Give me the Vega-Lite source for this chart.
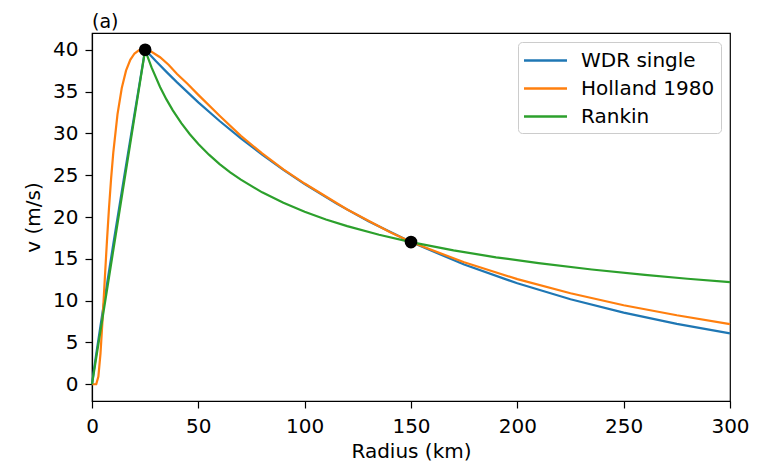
{
  "$schema": "https://vega.github.io/schema/vega-lite/v6.json",
  "width": 638,
  "height": 368,
  "autosize": {"type": "none"},
  "padding": {"left": 92, "top": 33, "right": 29, "bottom": 61},
  "background": "white",
  "title": {"text": "(a)", "anchor": "start", "frame": "group", "fontSize": 19, "fontWeight": "normal", "font": "DejaVu Sans", "color": "#000", "baseline": "bottom", "offset": -18},
  "config": {
    "font": "DejaVu Sans",
    "view": {"stroke": "#000", "strokeWidth": 1.2},
    "axis": {
      "grid": false,
      "domainColor": "#000",
      "domainWidth": 1.2,
      "tickColor": "#000",
      "tickWidth": 1.2,
      "tickSize": 7,
      "labelFlush": false,
      "labelFontSize": 20,
      "labelColor": "#000",
      "labelFont": "DejaVu Sans",
      "titleFontSize": 20,
      "titleFontWeight": "normal",
      "titleColor": "#000",
      "titleFont": "DejaVu Sans"
    }
  },
  "datasets": {
    "curves": [
      {"model": "WDR single", "r": 0, "v": 0},
      {"model": "WDR single", "r": 1, "v": 1.88},
      {"model": "WDR single", "r": 2, "v": 3.63},
      {"model": "WDR single", "r": 5, "v": 8.67},
      {"model": "WDR single", "r": 10, "v": 16.75},
      {"model": "WDR single", "r": 15, "v": 24.62},
      {"model": "WDR single", "r": 20, "v": 32.36},
      {"model": "WDR single", "r": 25, "v": 40.0},
      {"model": "WDR single", "r": 30, "v": 38.65},
      {"model": "WDR single", "r": 35, "v": 37.35},
      {"model": "WDR single", "r": 40, "v": 36.10},
      {"model": "WDR single", "r": 50, "v": 33.71},
      {"model": "WDR single", "r": 60, "v": 31.48},
      {"model": "WDR single", "r": 70, "v": 29.40},
      {"model": "WDR single", "r": 80, "v": 27.45},
      {"model": "WDR single", "r": 90, "v": 25.63},
      {"model": "WDR single", "r": 100, "v": 23.94},
      {"model": "WDR single", "r": 115, "v": 21.60},
      {"model": "WDR single", "r": 130, "v": 19.49},
      {"model": "WDR single", "r": 150, "v": 17.0},
      {"model": "WDR single", "r": 175, "v": 14.32},
      {"model": "WDR single", "r": 200, "v": 12.07},
      {"model": "WDR single", "r": 225, "v": 10.17},
      {"model": "WDR single", "r": 250, "v": 8.57},
      {"model": "WDR single", "r": 275, "v": 7.22},
      {"model": "WDR single", "r": 300, "v": 6.09},
      {"model": "Holland 1980", "r": 0, "v": 0},
      {"model": "Holland 1980", "r": 1, "v": 0},
      {"model": "Holland 1980", "r": 2, "v": 0.02},
      {"model": "Holland 1980", "r": 3, "v": 0.91},
      {"model": "Holland 1980", "r": 4, "v": 3.70},
      {"model": "Holland 1980", "r": 5, "v": 7.86},
      {"model": "Holland 1980", "r": 6, "v": 12.51},
      {"model": "Holland 1980", "r": 7, "v": 17.0},
      {"model": "Holland 1980", "r": 8, "v": 21.1},
      {"model": "Holland 1980", "r": 9, "v": 24.65},
      {"model": "Holland 1980", "r": 10, "v": 27.67},
      {"model": "Holland 1980", "r": 12, "v": 32.3},
      {"model": "Holland 1980", "r": 14, "v": 35.43},
      {"model": "Holland 1980", "r": 16, "v": 37.5},
      {"model": "Holland 1980", "r": 18, "v": 38.79},
      {"model": "Holland 1980", "r": 20, "v": 39.55},
      {"model": "Holland 1980", "r": 22, "v": 39.92},
      {"model": "Holland 1980", "r": 25, "v": 40.0},
      {"model": "Holland 1980", "r": 28, "v": 39.75},
      {"model": "Holland 1980", "r": 32, "v": 39.1},
      {"model": "Holland 1980", "r": 36, "v": 38.2},
      {"model": "Holland 1980", "r": 40, "v": 37.1},
      {"model": "Holland 1980", "r": 45, "v": 35.9},
      {"model": "Holland 1980", "r": 50, "v": 34.6},
      {"model": "Holland 1980", "r": 60, "v": 32.1},
      {"model": "Holland 1980", "r": 70, "v": 29.7},
      {"model": "Holland 1980", "r": 80, "v": 27.6},
      {"model": "Holland 1980", "r": 90, "v": 25.7},
      {"model": "Holland 1980", "r": 100, "v": 24.0},
      {"model": "Holland 1980", "r": 120, "v": 20.9},
      {"model": "Holland 1980", "r": 140, "v": 18.2},
      {"model": "Holland 1980", "r": 150, "v": 17.0},
      {"model": "Holland 1980", "r": 175, "v": 14.58},
      {"model": "Holland 1980", "r": 200, "v": 12.57},
      {"model": "Holland 1980", "r": 225, "v": 10.88},
      {"model": "Holland 1980", "r": 250, "v": 9.45},
      {"model": "Holland 1980", "r": 275, "v": 8.25},
      {"model": "Holland 1980", "r": 300, "v": 7.2},
      {"model": "Rankin", "r": 0, "v": 0},
      {"model": "Rankin", "r": 25, "v": 40.0},
      {"model": "Rankin", "r": 26, "v": 39.26},
      {"model": "Rankin", "r": 28, "v": 37.89},
      {"model": "Rankin", "r": 32, "v": 35.55},
      {"model": "Rankin", "r": 35, "v": 34.06},
      {"model": "Rankin", "r": 38, "v": 32.75},
      {"model": "Rankin", "r": 42, "v": 31.22},
      {"model": "Rankin", "r": 46, "v": 29.90},
      {"model": "Rankin", "r": 50, "v": 28.73},
      {"model": "Rankin", "r": 55, "v": 27.45},
      {"model": "Rankin", "r": 60, "v": 26.33},
      {"model": "Rankin", "r": 65, "v": 25.34},
      {"model": "Rankin", "r": 70, "v": 24.46},
      {"model": "Rankin", "r": 80, "v": 22.95},
      {"model": "Rankin", "r": 90, "v": 21.70},
      {"model": "Rankin", "r": 100, "v": 20.63},
      {"model": "Rankin", "r": 110, "v": 19.71},
      {"model": "Rankin", "r": 120, "v": 18.91},
      {"model": "Rankin", "r": 135, "v": 17.88},
      {"model": "Rankin", "r": 150, "v": 17.0},
      {"model": "Rankin", "r": 170, "v": 16.01},
      {"model": "Rankin", "r": 190, "v": 15.18},
      {"model": "Rankin", "r": 210, "v": 14.48},
      {"model": "Rankin", "r": 235, "v": 13.72},
      {"model": "Rankin", "r": 260, "v": 13.07},
      {"model": "Rankin", "r": 280, "v": 12.62},
      {"model": "Rankin", "r": 300, "v": 12.21}
    ],
    "points": [
      {"r": 25, "v": 40},
      {"r": 150, "v": 17}
    ]
  },
  "encoding": {
    "x": {"field": "r", "type": "quantitative", "title": "Radius (km)",
      "scale": {"domain": [0, 300], "nice": false, "zero": false},
      "axis": {"values": [0, 50, 100, 150, 200, 250, 300], "labelPadding": 8, "titlePadding": 5}},
    "y": {"field": "v", "type": "quantitative", "title": "v (m/s)",
      "scale": {"domain": [-2, 42], "nice": false, "zero": false},
      "axis": {"values": [0, 5, 10, 15, 20, 25, 30, 35, 40], "labelPadding": 7, "titlePadding": 9}}
  },
  "layer": [
    {
      "data": {"name": "curves"},
      "transform": [{"filter": "datum.model === 'WDR single'"}],
      "mark": {"type": "line", "strokeWidth": 2.2, "interpolate": "linear"},
      "encoding": {
        "color": {"field": "model", "type": "nominal",
          "scale": {"domain": ["WDR single", "Holland 1980", "Rankin"], "range": ["#1f77b4", "#ff7f0e", "#2ca02c"]},
          "legend": {
            "title": null,
            "orient": "top-right",
            "offset": 9,
            "padding": 6,
            "fillColor": "white",
            "strokeColor": "#cccccc",
            "cornerRadius": 4,
            "symbolType": "M-2,0H2",
            "symbolSize": 462,
            "symbolStrokeWidth": 2.6,
            "symbolOffset": 9,
            "labelFontSize": 20,
            "labelFont": "DejaVu Sans",
            "labelColor": "#000",
            "labelOffset": 23,
            "rowPadding": 5
          }}
      }
    },
    {
      "data": {"name": "curves"},
      "transform": [{"filter": "datum.model === 'Holland 1980'"}],
      "mark": {"type": "line", "strokeWidth": 2.2, "interpolate": "linear"},
      "encoding": {"color": {"field": "model", "type": "nominal"}}
    },
    {
      "data": {"name": "curves"},
      "transform": [{"filter": "datum.model === 'Rankin'"}],
      "mark": {"type": "line", "strokeWidth": 2.2, "interpolate": "linear"},
      "encoding": {"color": {"field": "model", "type": "nominal"}}
    },
    {
      "data": {"name": "points"},
      "mark": {"type": "circle", "size": 160, "color": "#000", "opacity": 1}
    }
  ]
}
